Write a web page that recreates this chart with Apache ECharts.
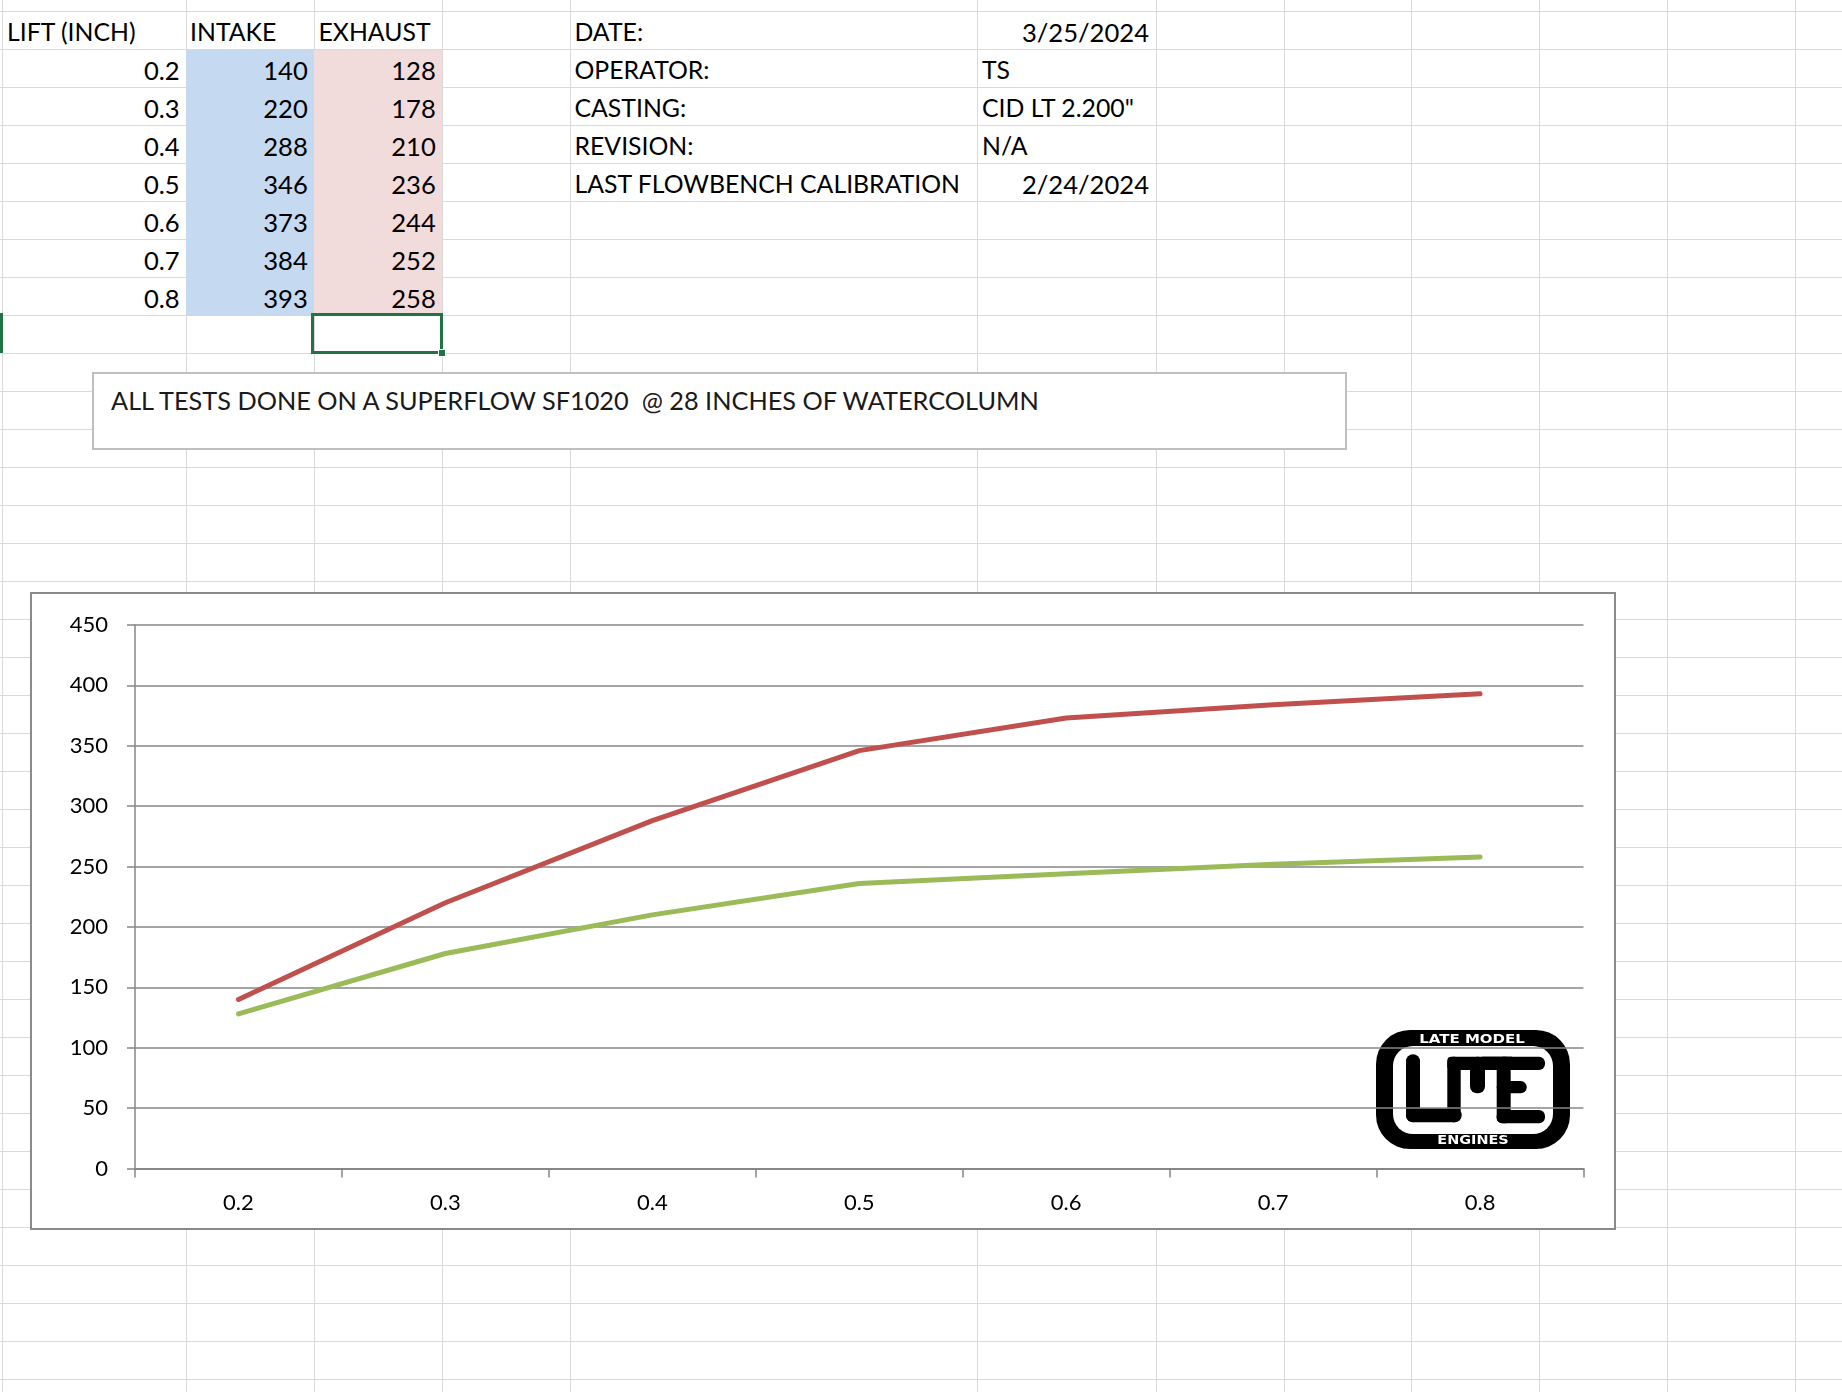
<!DOCTYPE html>
<html><head><meta charset="utf-8">
<script src="https://cdn.jsdelivr.net/npm/echarts@6/dist/echarts.min.js"></script>
<style>
html,body{margin:0;padding:0;background:#fff;width:1842px;height:1392px;overflow:hidden;font-family:Lato,"Open Sans",sans-serif;}
#sheet{position:absolute;left:0;top:0;width:1842px;height:1392px;}
.hl{position:absolute;left:0;width:1842px;height:1px;background:#dadada;}
.vl{position:absolute;top:0;height:1392px;width:1px;background:#dadada;}
.fill{position:absolute;}
.cell{position:absolute;height:38px;line-height:38px;font-size:24.8px;color:#000;white-space:pre;}
.num{font-size:25.6px;}
.r{text-align:right;}
#note{position:absolute;left:92px;top:372px;width:1255px;height:78px;box-sizing:border-box;border:2px solid #bfbfbf;background:#fff;}
#noteText{position:absolute;left:17px;top:8px;font-size:25.3px;line-height:36px;white-space:pre;color:#1a1a1a;}
#sel{position:absolute;left:311px;top:313px;width:132px;height:41px;box-sizing:border-box;border:3px solid #217346;}
#handle{position:absolute;left:438px;top:349px;width:8px;height:8px;background:#217346;border:1px solid #fff;box-sizing:border-box;}
#rowmark{position:absolute;left:0;top:313px;width:3px;height:40px;background:#217346;}
#chartBox{position:absolute;left:30px;top:592px;width:1586px;height:638px;box-sizing:border-box;border:2px solid #8a8a8a;background:#fff;}
#chart{position:absolute;left:0;top:0;width:1582px;height:634px;}
</style></head><body>
<div id="sheet"></div>
<div id="note"><div id="noteText"></div></div>
<div id="sel"></div><div id="handle"></div><div id="rowmark"></div>
<div id="chartBox"><div id="chart"></div></div>
<script>
// ---- data ----
const headers = ['LIFT (INCH)', 'INTAKE', 'EXHAUST'];
const lifts = ['0.2', '0.3', '0.4', '0.5', '0.6', '0.7', '0.8'];
const intake = [140, 220, 288, 346, 373, 384, 393];
const exhaust = [128, 178, 210, 236, 244, 252, 258];
const infoLabels = ['DATE:', 'OPERATOR:', 'CASTING:', 'REVISION:', 'LAST FLOWBENCH CALIBRATION'];
const infoValues = ['3/25/2024', 'TS', 'CID LT 2.200"', 'N/A', '2/24/2024'];
const infoRight = [true, false, false, false, true];
const noteLine = 'ALL TESTS DONE ON A SUPERFLOW SF1020  @ 28 INCHES OF WATERCOLUMN';
const logoTop = 'LATE MODEL';
const logoBottom = 'ENGINES';

// ---- spreadsheet ----
const sheet = document.getElementById('sheet');
const colLines = [2, 186, 314, 442, 570, 977, 1156, 1284, 1411, 1539, 1667, 1795];
for (let k = 0; k < 37; k++) {
  const d = document.createElement('div'); d.className = 'hl';
  d.style.top = Math.round(11.3 + 38 * k) + 'px'; sheet.appendChild(d);
}
colLines.forEach(x => { const d = document.createElement('div'); d.className = 'vl'; d.style.left = x + 'px'; sheet.appendChild(d); });
function fill(x, y, w, h, c) { const d = document.createElement('div'); d.className = 'fill'; Object.assign(d.style, {left: x + 'px', top: y + 'px', width: w + 'px', height: h + 'px', background: c}); sheet.appendChild(d); }
fill(186, 50, 128, 266, '#c5d9f1');
fill(314, 50, 128, 266, '#f2dcdb');
function cell(text, x, y, w, right, num) {
  const d = document.createElement('div'); d.className = 'cell' + (right ? ' r' : '') + (num ? ' num' : '');
  d.textContent = text;
  d.style.left = x + 'px'; d.style.top = y + 'px'; if (w) d.style.width = w + 'px';
  sheet.appendChild(d);
}
const rowTop = k => 11.3 + 38 * k + 1.5;
cell(headers[0], 7, rowTop(0));
cell(headers[1], 190, rowTop(0));
cell(headers[2], 318.5, rowTop(0));
lifts.forEach((v, i) => {
  cell(v, 0, rowTop(i + 1), 179.7, true, true);
  cell(String(intake[i]), 186, rowTop(i + 1), 121.8, true, true);
  cell(String(exhaust[i]), 314, rowTop(i + 1), 121.8, true, true);
});
infoLabels.forEach((t, i) => {
  cell(t, 574.5, rowTop(i));
  if (infoRight[i]) cell(infoValues[i], 977, rowTop(i), 172, true, true);
  else cell(infoValues[i], 982, rowTop(i));
});
document.getElementById('noteText').textContent = noteLine;

// ---- chart ----
const chart = echarts.init(document.getElementById('chart'), null, {renderer: 'canvas'});
const axisGray = '#868686';
function bar(x, y, w, h, r) { return {type: 'rect', shape: {x, y, width: w, height: h, r}, style: {fill: '#000'}}; }
chart.setOption({
  animation: false,
  backgroundColor: '#fff',
  grid: {left: 103, right: 30.5, top: 31, bottom: 59.5, containLabel: false},
  xAxis: {
    type: 'category', data: lifts, boundaryGap: true,
    axisLine: {show: true, lineStyle: {color: axisGray, width: 2}},
    axisTick: {show: true, length: 9, lineStyle: {color: axisGray, width: 1.5}},
    axisLabel: {fontFamily: 'Lato', fontSize: 22, color: '#000', margin: 23, lineHeight: 22},
    splitLine: {show: false}
  },
  yAxis: {
    type: 'value', min: 0, max: 450, interval: 50,
    axisLine: {show: true, lineStyle: {color: axisGray, width: 1.5}},
    axisTick: {show: true, length: 8, lineStyle: {color: axisGray, width: 1.5}},
    axisLabel: {fontFamily: 'Lato', fontSize: 22, color: '#000', margin: 27},
    splitLine: {show: true, lineStyle: {color: axisGray, width: 1.6}}
  },
  series: [
    {name: 'INTAKE', type: 'line', data: intake, symbol: 'none', smooth: false,
     lineStyle: {color: '#c0504d', width: 5, cap: 'round', join: 'round'}, z: 3},
    {name: 'EXHAUST', type: 'line', data: exhaust, symbol: 'none', smooth: false,
     lineStyle: {color: '#9bbb59', width: 5, cap: 'round', join: 'round'}, z: 3}
  ],
  graphic: [{
    type: 'group', z: 100,
    children: [
      {type: 'rect', shape: {x: 1343, y: 434, width: 198, height: 124}, style: {fill: '#fff'}},
      {type: 'rect', shape: {x: 1344, y: 436, width: 194, height: 119, r: 34}, style: {fill: '#000'}},
      {type: 'rect', shape: {x: 1361, y: 452, width: 160, height: 88, r: 20}, style: {fill: '#fff'}},
      bar(1374, 460.3, 14, 68, 7),
      bar(1374, 514.3, 55.7, 14, 7),
      bar(1415.3, 462.7, 56, 13.3, 4),
      bar(1415.3, 462.7, 13.4, 65.6, 6),
      bar(1438, 462.7, 15, 36.6, 7),
      bar(1450, 462.7, 30, 13.3, 0),
      bar(1464.7, 462.7, 14, 66.6, 5),
      bar(1464.7, 462.7, 48.3, 13.3, 6),
      bar(1464.7, 487, 30, 12.3, 6),
      bar(1464.7, 516, 48.3, 13.3, 6),
      {type: 'text', x: 1440, y: 446, scaleX: 1.25, style: {text: logoTop, fill: '#fff', font: 'bold 12px "DejaVu Sans"', align: 'center', verticalAlign: 'middle'}},
      {type: 'text', x: 1441, y: 547, scaleX: 1.2, style: {text: logoBottom, fill: '#fff', font: 'bold 12px "DejaVu Sans"', align: 'center', verticalAlign: 'middle'}}
    ]
  }]
});
</script>
</body></html>
